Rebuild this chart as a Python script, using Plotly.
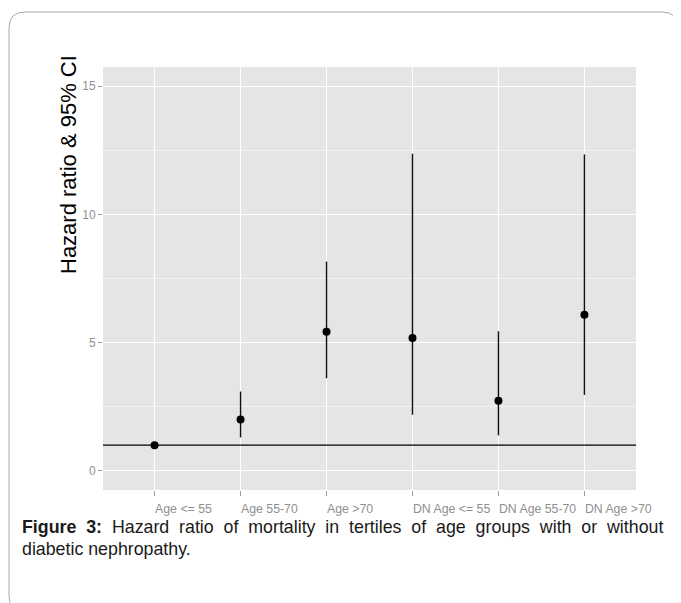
import plotly.graph_objects as go

# ---- data ----
categories = ["Age <= 55", "Age 55-70", "Age >70", "DN Age <= 55", "DN Age 55-70", "DN Age >70"]
hazard_ratio = [1.0, 2.0, 5.42, 5.18, 2.73, 6.09]
ci_lower = [1.0, 1.30, 3.61, 2.19, 1.38, 2.96]
ci_upper = [1.0, 3.09, 8.16, 12.37, 5.44, 12.34]
reference_line = 1
y_ticks = [0, 5, 10, 15]

# ---- layout geometry (pixels, in page coordinates; the page body has an 8px margin) ----
OFF = 8
W, H = 681 - OFF, 603 - OFF
L, T = 103 - OFF, 67 - OFF
PW, PH = 533, 423
R, B = W - L - PW, H - T - PH


def px(x):
    return (x - OFF - L) / PW


def py(y):
    return (T + PH - (y - OFF)) / PH


err_plus = [u - h for u, h in zip(ci_upper, hazard_ratio)]
err_minus = [h - l for h, l in zip(hazard_ratio, ci_lower)]

fig = go.Figure()
fig.add_trace(go.Scatter(
    x=categories, y=hazard_ratio, mode="markers",
    marker=dict(color="black", size=8, symbol="circle"),
    error_y=dict(type="data", symmetric=False, array=err_plus, arrayminus=err_minus,
                 width=0, thickness=1.4, color="#111111"),
    showlegend=False, hoverinfo="x+y",
))

# horizontal reference line at HR = 1
fig.add_shape(type="line", xref="paper", yref="y", x0=0, x1=1,
              y0=reference_line, y1=reference_line,
              line=dict(color="black", width=1.3), layer="above")

# card border (rounded rectangle)
x0, x1, y0, y1, r = 9, 678, 12, 612, 16
path = (f"M {px(x0 + r)},{py(y0)} L {px(x1 - r)},{py(y0)} "
        f"Q {px(x1)},{py(y0)} {px(x1)},{py(y0 + r)} "
        f"L {px(x1)},{py(y1 - r)} Q {px(x1)},{py(y1)} {px(x1 - r)},{py(y1)} "
        f"L {px(x0 + r)},{py(y1)} Q {px(x0)},{py(y1)} {px(x0)},{py(y1 - r)} "
        f"L {px(x0)},{py(y0 + r)} Q {px(x0)},{py(y0)} {px(x0 + r)},{py(y0)} Z")
fig.add_shape(type="path", xref="paper", yref="paper", path=path,
              line=dict(color="#a3a8a8", width=1), fillcolor="rgba(0,0,0,0)", layer="below")

# y-axis title (placed as in the reference, above centre)
fig.add_annotation(text="Hazard ratio &amp; 95% CI", textangle=-90,
                   xref="paper", yref="paper", x=px(68), y=py(165),
                   showarrow=False, xanchor="center", yanchor="middle",
                   font=dict(family="Liberation Sans, Arial, sans-serif", size=22, color="black"))

# caption
sp = "\u00a0 "
line1_words = ["Hazard", "ratio", "of", "mortality", "in", "tertiles", "of", "age",
               "groups", "with", "or", "without"]
caption1 = "<b>Figure" + sp + "3:</b>" + sp + sp.join(line1_words)
fig.add_annotation(text=caption1, xref="paper", yref="paper", x=px(20), y=py(527),
                   showarrow=False, xanchor="left", yanchor="middle", align="left",
                   font=dict(family="Liberation Sans, Arial, sans-serif", size=17.8, color="#1a1a1a"))
fig.add_annotation(text="diabetic nephropathy.", xref="paper", yref="paper", x=px(20), y=py(549),
                   showarrow=False, xanchor="left", yanchor="middle", align="left",
                   font=dict(family="Liberation Sans, Arial, sans-serif", size=17.8, color="#1a1a1a"))

fig.update_layout(
    width=W, height=H,
    margin=dict(l=L, r=R, t=T, b=B, pad=0),
    paper_bgcolor="white", plot_bgcolor="#E5E5E5",
    font=dict(family="Liberation Sans, Arial, sans-serif"),
    xaxis=dict(
        type="category", categoryorder="array", categoryarray=categories,
        range=[-0.6, len(categories) - 0.4],
        showgrid=True, gridcolor="white", gridwidth=1.3,
        zeroline=False, showline=False,
        ticks="outside", ticklen=5, tickcolor="#9a9a9a", tickwidth=1,
        tickangle=0,
        ticklabelposition="outside right", ticklabelstandoff=7,
        tickfont=dict(size=12.3, color="#8f8f8f"),
        fixedrange=True,
    ),
    yaxis=dict(
        range=[-0.75, 15.75],
        tickvals=y_ticks, ticktext=[str(v) for v in y_ticks],
        showgrid=True, gridcolor="white", gridwidth=1.3,
        minor=dict(dtick=2.5, tick0=0, showgrid=True, gridcolor="#f3f3f3", gridwidth=0.7),
        zeroline=False, showline=False,
        ticks="outside", ticklen=4, tickcolor="#9a9a9a", tickwidth=1,
        tickfont=dict(size=12, color="#8f8f8f"),
        fixedrange=True,
    ),
)

fig.write_html("out.html")
